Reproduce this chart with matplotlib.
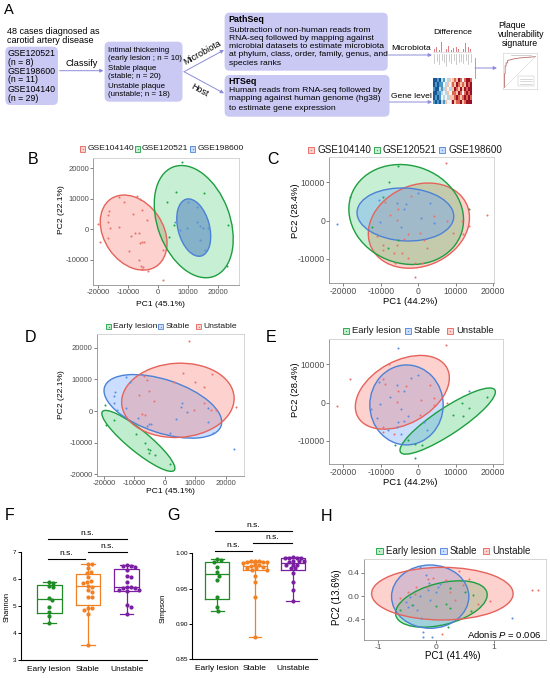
import numpy as np
import matplotlib
matplotlib.use("Agg")
import matplotlib.pyplot as plt
from matplotlib.patches import Ellipse, FancyBboxPatch, Rectangle
from matplotlib.ticker import FormatStrFormatter

plt.rcParams['font.family'] = ['Liberation Sans', 'DejaVu Sans']
plt.rcParams['axes.unicode_minus'] = False
plt.rcParams['mathtext.fontset'] = 'custom'
plt.rcParams['mathtext.rm'] = 'Liberation Sans'
plt.rcParams['mathtext.it'] = 'Liberation Sans:italic'

# ======================= DATA =======================
cohorts = ["GSE120521", "GSE198600", "GSE104140"]
cohort_n = [8, 11, 29]
groups = ["Early lesion", "Stable", "Unstable"]
group_n = [10, 20, 18]
cohort_levels = ["GSE104140", "GSE120521", "GSE198600"]

# Panels B / D : PCA of microbiota (PC1 45.1 %, PC2 22.1 %)
bd_pc1 = [-19800, -19300, -16600, -9500, -6400, -5600, -4900, -5300, -3400, 1600,
          -12820, -11380, -16350, -16580, -16690, -15800, -12820, -8950, -5300, -5860, -4530, 1660,
          -6960, -5860, -8400, -5300, -7510, -6410, -3650,
          7960, 5970, 15360, 2980, 3540, 23430, 22870, 5300,
          9950, 12930, 5750, 7400, 9610, 12930, 14030, 15140, 16800, 14030, 15690]
bd_pc2 = [1800, -4300, -2800, -7300, -10100, -12000, -12300, -13100, -13800, -16600,
          10710, 9070, 6010, 4700, 2510, 330, 870, -2190, -4040, -4590, -4040, -6780,
          10930, 9840, 5030, 6340, -1090, -1310, 3060,
          22190, 12130, 11800, 9070, -2400, 1420, -12020, 1420,
          9070, 7430, 2510, -220, 330, 2510, 1090, 330, 330, -3500, -6780]
bd_cohort = ["GSE104140"] * 29 + ["GSE120521"] * 8 + ["GSE198600"] * 11
bd_group_code = ("E E E E E E E E E E "
                 "S S S S S S S S S S S S "
                 "U U U U U U U "
                 "U U U U S U S S "
                 "U U S S U U S U U S S").split()

# Panels C / E : PCA of host genes (PC1 44.2 %, PC2 28.4 %)
ce_pc1 = [7290, -5330, -7820, 0, 3110, -9330, -10490, -8890, -5600, -3380, -5510, -3730,
          -18220, 13510, 620, 4270, -5600, -10220, -12450, 4180, 7730, 11560, 18220, -21780,
          -4710, -2670, 440, 9330, -3730, -5510, -9330, -5780, -8000, -9330, -4450, -6490,
          2220, -2670, -890, -6220, 890, -890, 12000, 13600, -11000, -7500, 1500, -2000]
ce_pc2 = [15140, 14360, 10000, 7310, 4700, 6090, 5390, 4960, 4520, 4350, 2960, 2960,
          6260, 3040, 780, 1220, 170, -260, -1740, -520, 0, -90, 1480, -960,
          -1740, -3480, -3130, -3310, -4870, -5050, -6350, -6350, -7220, -7660, -8350, -8350,
          -7220, -9830, -10960, -11140, -11140, -14620, -3500, -1500, -4000, 1500, -5000, 6500]
ce_cohort_code = ("A B B C C B C A C C A C "
                  "B B C A A C B C A A A C "
                  "C A A A A B A A B A A A "
                  "A A A A A A A A A A A A").split()
ce_group_code = ("U S U S U U S U S U U S "
                 "U S U U U S S U U E E U "
                 "S S U E S S U S S U S U "
                 "S E E E E E E E S S S S").split()

# Panel H : PCoA (PC1 41.4 %, PC2 13.6 %)
h_pc1 = [1.65, 1.76, 0.10, 0.40, 0.57, 0.94, 0.73, 0.17, -0.05, -0.13, -0.34, -0.48, 0.47, -0.62, 0.24, -0.16, 0.33, -0.36,
         -0.28, -0.17, -0.11, 0.07, 0.16, 0.04, -0.28, -0.45, -0.52, -0.39, -0.48, -0.10, 0.01, -0.25, -0.22, -0.07, -0.22, 1.32, -0.13, -0.33,
         0.24, 0.50, -0.42, 0.24, 0.21, 0.01, 0.18, -0.62, 0.64, 0.60]
h_pc2 = [0.10, 0.10, -0.65, 0.43, 0.29, -0.08, -0.13, 0.27, 0.31, 0.29, 0.16, 0.07, 0.19, -0.04, 0.07, 0.16, -0.07, 0.03,
         0.49, 0.36, 0.23, 0.21, 0.25, 0.15, 0.00, -0.02, -0.10, -0.15, -0.19, -0.07, 0.07, -0.37, -0.61, -0.70, -0.70, -0.38, 0.10, -0.24,
         0.13, 0.07, -0.15, -0.21, -0.53, -0.18, -0.13, -0.24, 0.02, -0.25]
h_group = ["Unstable"] * 18 + ["Stable"] * 20 + ["Early lesion"] * 10
adonis_p = "0.006"

# 95 % ellipses: (centre PC1, centre PC2, width, height, angle)
ell_B = {"GSE104140": (-8070, -1090, 26800, 19600, -55),
         "GSE120521": (11930, 2510, 38400, 24000, -69),
         "GSE198600": (11930, 550, 19300, 10500, -75)}
ell_C = {"GSE104140": (180, -1300, 27800, 21200, 22),
         "GSE120521": (-3200, 1610, 31000, 25600, -17),
         "GSE198600": (-3420, 1610, 25800, 13800, -3)}
ell_D = {"Early lesion": (-8710, -9420, 30000, 6840, -38),
         "Stable": (-660, 1470, 40200, 16800, -17.5),
         "Unstable": (4270, 3370, 37000, 23400, 3)}
ell_E = {"Early lesion": (7870, -4845, 30000, 7000, 33),
         "Stable": (-3110, -610, 19560, 20960, 0),
         "Unstable": (-4220, 2700, 27000, 16540, 28)}
ell_H = {"Early lesion": (0.095, -0.137, 1.62, 0.714, 14),
         "Stable": (-0.098, -0.011, 1.333, 1.086, 0),
         "Unstable": (0.112, 0.04, 2.442, 0.903, 0)}

# Panels F / G : alpha diversity
shannon = [[5.87, 5.85, 5.72, 5.70, 5.30, 5.20, 4.95, 4.78, 4.62, 4.35],
           [6.54, 6.54, 6.38, 6.26, 6.20, 6.05, 5.93, 5.89, 5.83, 5.74, 5.71, 5.58, 5.52, 5.34, 5.34, 4.91, 4.91, 4.85, 4.70, 3.54],
           [6.50, 6.48, 6.48, 6.43, 6.32, 6.10, 6.08, 5.89, 5.70, 5.68, 5.67, 5.66, 5.60, 5.57, 5.55, 5.03, 4.97, 4.70]]
simpson = [[0.9915, 0.991, 0.987, 0.980, 0.973, 0.968, 0.962, 0.938, 0.9245, 0.919],
           [0.9895, 0.9890, 0.9885, 0.9880, 0.9875, 0.9870, 0.9865, 0.9860, 0.9840, 0.9830, 0.9815, 0.9805, 0.9795, 0.9785, 0.9770, 0.9760, 0.9680, 0.9600, 0.9380, 0.8810],
           [0.9953, 0.9940, 0.9940, 0.9940, 0.9940, 0.9895, 0.9895, 0.9890, 0.9880, 0.9835, 0.9835, 0.9835, 0.9785, 0.9785, 0.9720, 0.9590, 0.9480, 0.9325]]
sig_label = "n.s."

# Thumbnails in panel A
thumb_bar_h = [0.3, 0.5, 0.2, 0.9, 0.4, 0.3, 0.6, 0.2, 0.35, 0.5, 0.25, 0.4, 0.3, 0.85, 0.45, 0.3]
thumb_lab_len = [0.8, 0.6, 0.9, 0.5, 0.7, 1.0, 0.6, 0.8, 0.5, 0.9, 0.7, 0.6, 0.8, 0.5, 0.9, 0.7]
thumb_heat = [[-3, -3, -2, -3, -1, -2, 0, -1, 1, 0, 1, 2, 1, 3, 2, 0, 2, 3, 3, 2],
              [-3, -2, -3, -2, -2, 0, -1, 1, 0, -1, 2, 1, 3, 2, 1, 2, 1, 3, 2, 3],
              [-2, -3, -3, -1, -2, -1, 1, 0, -1, 1, 1, 3, 2, 1, 3, 1, 3, 2, 3, 3],
              [-3, -3, -2, -2, -1, 0, -1, 1, 0, 0, 2, 2, 1, 3, 2, 0, 2, 3, 2, 3],
              [-3, -2, -3, -2, 0, -1, 0, -1, 1, 1, 1, 2, 3, 2, 1, 2, 3, 2, 3, 2],
              [-2, -3, -2, -3, -1, -2, 1, 0, 0, 1, 3, 1, 2, 2, 3, 1, 2, 3, 3, 3]]
roc_fpr = [0, 0, 0.02, 0.02, 0.05, 0.05, 0.1, 0.1, 0.2, 0.3, 0.5, 0.75, 1]
roc_tpr = [0, 0.45, 0.45, 0.7, 0.7, 0.8, 0.8, 0.88, 0.9, 0.93, 0.96, 0.98, 1]

# ======================= STYLE =======================
BASE = {"GSE104140": "#F8766D", "GSE120521": "#00BA38", "GSE198600": "#619CFF",
        "Unstable": "#F8766D", "Early lesion": "#00BA38", "Stable": "#619CFF"}
EDGE = {"GSE104140": "#E5635B", "GSE120521": "#1E9E40", "GSE198600": "#4C82D6",
        "Unstable": "#E5635B", "Early lesion": "#1E9E40", "Stable": "#4C82D6"}
ALPHA = {"GSE104140": 0.33, "GSE120521": 0.22, "GSE198600": 0.35,
         "Unstable": 0.33, "Early lesion": 0.25, "Stable": 0.33}
PT = {"GSE104140": "#E8736B", "GSE120521": "#1FA64A", "GSE198600": "#5A8FE0",
      "Unstable": "#E8736B", "Early lesion": "#1FA64A", "Stable": "#5A8FE0"}
GCOL = ["#1F8B24", "#F28024", "#7B1FA2"]
code_map = {"E": "Early lesion", "S": "Stable", "U": "Unstable",
            "A": "GSE104140", "B": "GSE120521", "C": "GSE198600"}

W, H = 550, 678
fig = plt.figure(figsize=(W / 100, H / 100), dpi=100)
ov = fig.add_axes([0, 0, 1, 1])
ov.set_xlim(0, W)
ov.set_ylim(H, 0)
ov.axis('off')
ov.set_zorder(10)


def pax(l, t, r, b):
    return fig.add_axes([l / W, 1 - b / H, (r - l) / W, (b - t) / H])


# ======================= PANEL A =======================
BOXC = '#c9c9f4'
ARC = '#8c8cdc'


def rbox(x0, y0, x1, y1):
    ov.add_patch(FancyBboxPatch((x0, y0), x1 - x0, y1 - y0,
                                boxstyle='round,pad=0,rounding_size=5',
                                facecolor=BOXC, edgecolor='none'))


def arrow(x0, y0, x1, y1):
    ov.annotate('', xy=(x1, y1), xytext=(x0, y0),
                arrowprops=dict(arrowstyle='-|>', color=ARC, lw=0.7,
                                mutation_scale=5, shrinkA=0, shrinkB=0))


ov.text(8.8, 10, 'A', fontsize=10.5, ha='center', va='center')
ov.text(7, 31.7, '48 cases diagnosed as', fontsize=6.5, va='center')
ov.text(7, 40.7, 'carotid artery disease', fontsize=6.5, va='center')
rbox(5.3, 46.7, 57.9, 105)
ys = [53.3, 62.3, 71.7, 80, 89, 98.5]
for k, (c, n) in enumerate(zip(cohorts, cohort_n)):
    ov.text(7.7, ys[2 * k], c, fontsize=6.3, va='center')
    ov.text(7.7, ys[2 * k + 1], f'(n = {n})', fontsize=6.3, va='center')
ov.text(81.5, 64, 'Classify', fontsize=6.6, ha='center', va='center')
arrow(59.6, 70.7, 103.5, 70.7)

rbox(104.6, 41.7, 182.5, 101.7)
box2 = ['Intimal thickening', f'(early lesion ; n = {group_n[0]})',
        'Stable plaque', f'(stable; n = {group_n[1]})',
        'Unstable plaque', f'(unstable; n = {group_n[2]})']
for t, y in zip(box2, [50, 58.3, 68.3, 76.7, 86.7, 95]):
    ov.text(108, y, t, fontsize=5.7, va='center')

arrow(184, 71.7, 224, 50)
arrow(184, 71.7, 224, 93.3)
ov.text(202.5, 52.5, 'Microbiota', rotation=29, fontsize=6.5, ha='center', va='center')
ov.text(199.5, 90.5, 'Host', rotation=-29, fontsize=6.5, ha='center', va='center')

rbox(224.6, 12.7, 387.7, 70.7)
ov.text(228.8, 19.3, 'PathSeq', fontsize=6.4, fontweight='bold', va='center')
for t, y in zip(['Subtraction of non-human reads from',
                 'RNA-seq followed by mapping against',
                 'microbial datasets to estimate microbiota',
                 'at phylum, class, order, family, genus, and',
                 'species ranks'], [30, 38.3, 46.7, 55, 63.3]):
    ov.text(228.8, y, t, fontsize=6.1, va='center')
rbox(224.6, 75, 389.5, 116.7)
ov.text(228.8, 81, 'HTSeq', fontsize=6.4, fontweight='bold', va='center')
for t, y in zip(['Human reads from RNA-seq followed by',
                 'mapping against human genome (hg38)',
                 'to estimate gene expression'], [90, 99, 108.3]):
    ov.text(228.8, y, t, fontsize=6.1, va='center')

ov.text(411.5, 48.3, 'Microbiota', fontsize=6.1, ha='center', va='center')
arrow(388.6, 55, 432, 55)
ov.text(411.5, 96.5, 'Gene level', fontsize=6.1, ha='center', va='center')
arrow(389.5, 102, 432, 102)
ov.text(452.5, 32.3, 'Difference', fontsize=6.1, ha='center', va='center')
ov.plot([475, 475], [58, 78], color=ARC, lw=0.6)
arrow(475, 68, 497, 68)
ov.text(498, 25, 'Plaque', fontsize=6.3, va='center')
ov.text(498, 34.3, 'vulnerability', fontsize=6.3, va='center')
ov.text(501.5, 43.3, 'signature', fontsize=6.3, va='center')

# thumbnail: differential bar chart
tb = pax(433, 40, 472, 67)
tb.set_xlim(-0.5, len(thumb_bar_h) - 0.5)
tb.set_ylim(0, 1)
xs_t = np.arange(len(thumb_bar_h))
tb.bar(xs_t, [h * 0.4 for h in thumb_bar_h], bottom=0.55, width=0.35, color='#d98088')
for x, L in zip(xs_t, thumb_lab_len):
    tb.plot([x, x], [0.5, 0.5 - 0.45 * L], color='#b5b5b5', lw=0.5)
tb.axhline(0.55, color='#cccccc', lw=0.4)
tb.axis('off')

# thumbnail: heatmap
th = pax(433, 78, 472, 104)
th.imshow(np.array(thumb_heat), cmap='RdBu_r', vmin=-3.5, vmax=3.5, aspect='auto',
          interpolation='nearest')
th.axis('off')

# thumbnail: ROC
tr = pax(503, 53, 537, 89)
tr.plot(roc_fpr, roc_tpr, color='#b76b6b', lw=0.6)
tr.plot([0, 1], [0, 1], color='#cccccc', lw=0.3)
tr.add_patch(Rectangle((0.45, 0.06), 0.5, 0.3, facecolor='white', edgecolor='#bbbbbb', lw=0.3))
for yy in [0.28, 0.2, 0.12]:
    tr.plot([0.5, 0.9], [yy, yy], color='#bbbbbb', lw=0.4)
tr.set_xlim(-0.05, 1.05)
tr.set_ylim(-0.05, 1.12)
tr.plot([0.2, 0.85], [1.07, 1.07], color='#bbbbbb', lw=0.5)
tr.set_xticks([])
tr.set_yticks([])
for s in tr.spines.values():
    s.set_color('#cccccc')
    s.set_linewidth(0.4)


# ======================= PCA PANELS =======================
def pca_panel(box, x, y, labels, levels, ell, xlim, ylim, xticks, yticks, fs,
              fill_over=None):
    ax = pax(*box)
    x = np.asarray(x, float)
    y = np.asarray(y, float)
    labels = np.asarray(labels)
    for lv in levels:
        cx, cy, w, h, ang = ell[lv]
        fc, al = BASE[lv], ALPHA[lv]
        if fill_over and lv in fill_over:
            fc, al = fill_over[lv]
        ax.add_patch(Ellipse((cx, cy), w, h, angle=ang, facecolor=fc, alpha=al,
                             edgecolor='none', zorder=1))
        ax.add_patch(Ellipse((cx, cy), w, h, angle=ang, facecolor='none',
                             edgecolor=EDGE[lv], lw=1.0, zorder=2))
    for lv in levels:
        m = labels == lv
        ax.scatter(x[m], y[m], s=2.2, color=PT[lv], linewidths=0, zorder=3)
    ax.set_xlim(*xlim)
    ax.set_ylim(*ylim)
    ax.set_xticks(xticks)
    ax.set_yticks(yticks)
    ax.tick_params(length=2, width=0.5, pad=1, labelsize=fs, colors='#4d4d4d')
    for k, s in ax.spines.items():
        s.set_linewidth(0.6)
        s.set_color('#8f8f8f' if k in ('left', 'bottom') else '#cfcfcf')
    return ax


def legend_row(yc, items, size, fs):
    for ix, tx, lv in items:
        ov.add_patch(Rectangle((ix, yc - size / 2), size, size, facecolor=BASE[lv],
                               alpha=ALPHA[lv], edgecolor='none'))
        ov.add_patch(Rectangle((ix, yc - size / 2), size, size, facecolor='none',
                               edgecolor=EDGE[lv], lw=0.6))
        ov.scatter([ix + size / 2], [yc], s=0.8, color=PT[lv], linewidths=0)
        ov.text(tx, yc, lv, fontsize=fs, ha='left', va='center', color='#1a1a1a')


ticks20 = [-20000, -10000, 0, 10000, 20000]
bd_group = [code_map[c] for c in bd_group_code]
ce_group = [code_map[c] for c in ce_group_code]
ce_cohort = [code_map[c] for c in ce_cohort_code]

# B
pca_panel((93, 158, 239, 285), bd_pc1, bd_pc2, bd_cohort, cohort_levels, ell_B,
          (-21600, 27000), (-18300, 23400), ticks20, [-10000, 0, 10000, 20000], 5.5,
          fill_over={"GSE198600": ("#4F80C0", 0.55)})
legend_row(149, [(80, 87.3, "GSE104140"), (135, 141.7, "GSE120521"), (190, 197.3, "GSE198600")], 5.3, 6.1)
ov.text(160, 304, 'PC1 (45.1%)', fontsize=6.1, ha='center', va='center')
ov.text(61.7, 210, 'PC2 (22.1%)', fontsize=6.1, ha='center', va='center', rotation=90)
ov.text(33.5, 159, 'B', fontsize=11.5, ha='center', va='center')

# C
pca_panel((329.3, 156.7, 494, 282.7), ce_pc1, ce_pc2, ce_cohort, cohort_levels, ell_C,
          (-23700, 20200), (-16200, 16700), ticks20, [-10000, 0, 10000], 6.2)
legend_row(150, [(308.3, 317.3, "GSE104140"), (373.7, 382.3, "GSE120521"), (439.3, 448.3, "GSE198600")], 6.0, 7.1)
ov.text(410.3, 301, 'PC1 (44.2%)', fontsize=6.8, ha='center', va='center')
ov.text(295, 211, 'PC2 (28.4%)', fontsize=6.8, ha='center', va='center', rotation=90)
ov.text(273, 159, 'C', fontsize=11.5, ha='center', va='center')

# D
pca_panel((96.7, 334, 244, 476), bd_pc1, bd_pc2, bd_group, groups, ell_D,
          (-22400, 26000), (-20500, 24300), ticks20, ticks20, 5.5)
legend_row(326.7, [(106, 113.3, "Early lesion"), (158.3, 166, "Stable"), (196, 203.3, "Unstable")], 5.0, 6.1)
ov.text(171, 491.7, 'PC1 (45.1%)', fontsize=6.1, ha='center', va='center')
ov.text(61.7, 395, 'PC2 (22.1%)', fontsize=6.1, ha='center', va='center', rotation=90)
ov.text(30, 337, 'D', fontsize=11.5, ha='center', va='center')

# E
pca_panel((329.3, 339.3, 503.3, 464), ce_pc1, ce_pc2, ce_group, groups, ell_E,
          (-23700, 22700), (-16100, 16600), ticks20, [-10000, 0, 10000], 6.2)
legend_row(330.7, [(343.3, 352.3, "Early lesion"), (405, 413.3, "Stable"), (447.3, 456, "Unstable")], 6.0, 6.8)
ov.text(410.3, 482.3, 'PC1 (44.2%)', fontsize=6.8, ha='center', va='center')
ov.text(295, 390, 'PC2 (28.4%)', fontsize=6.8, ha='center', va='center', rotation=90)
ov.text(271, 337, 'E', fontsize=11.5, ha='center', va='center')

# H
axH = pca_panel((364, 559.3, 545.7, 640), h_pc1, h_pc2, h_group, groups, ell_H,
                (-1.24, 1.895), (-0.755, 0.63), [-1, 0, 1], [-0.4, 0.0, 0.4], 6.0)
axH.yaxis.set_major_formatter(FormatStrFormatter('%.1f'))
legend_row(551, [(376, 386, "Early lesion"), (440, 449.3, "Stable"), (482.7, 492, "Unstable")], 6.7, 7.0)
ov.text(452.5, 655.7, 'PC1 (41.4%)', fontsize=7.0, ha='center', va='center')
ov.text(336.7, 597.3, 'PC2 (13.6%)', fontsize=7.0, ha='center', va='center', rotation=90)
ov.text(541.7, 634, f'Adonis $P$ = {adonis_p}', fontsize=6.8, ha='right', va='center')
ov.text(326.7, 516.7, 'H', fontsize=11.5, ha='center', va='center')


# ======================= BOX PANELS =======================
def swarm(vals, ypx, xpx, d=4.0, step=1.0, cap=13):
    v = np.asarray(vals, float)
    yp = v * ypx
    order = np.argsort(-v, kind='stable')
    placed = []
    off = np.zeros(len(v))
    for i in order:
        chosen = None
        k = 0
        while k * step <= cap:
            cands = [0.0] if k == 0 else [k * step, -k * step]
            for c in cands:
                if all((c - px) ** 2 + (yp[i] - py) ** 2 >= d * d for px, py in placed):
                    chosen = c
                    break
            if chosen is not None:
                break
            k += 1
        if chosen is None:
            chosen = 0.0
        placed.append((chosen, yp[i]))
        off[i] = chosen / xpx
    return off


def box_panel(box, data, xlim, ylim, yticks, ytl, sigs, sig_dy):
    ax = pax(*box)
    l, t, r, b = box
    xpx = (r - l) / (xlim[1] - xlim[0])
    ypx = (b - t) / (ylim[1] - ylim[0])
    for i, (vals, col) in enumerate(zip(data, GCOL)):
        v = np.asarray(vals, float)
        q1, med, q3 = np.percentile(v, [25, 50, 75], method='weibull')
        st = [dict(med=med, q1=q1, q3=q3, whislo=v.min(), whishi=v.max(), fliers=[])]
        lp = dict(color=col, lw=0.9)
        ax.bxp(st, positions=[i], widths=0.64, capwidths=0.34, showfliers=False,
               boxprops=lp, medianprops=lp, whiskerprops=lp, capprops=lp,
               manage_ticks=False)
        offs = swarm(v, ypx, xpx)
        ax.scatter(i + offs, v, s=9, color=col, linewidths=0, zorder=3)
    ax.set_xlim(*xlim)
    ax.set_ylim(*ylim)
    ax.set_xticks([0, 1, 2])
    ax.set_xticklabels(groups)
    ax.set_yticks(yticks)
    ax.set_yticklabels(ytl)
    ax.tick_params(axis='x', length=0, pad=4, labelsize=6)
    ax.tick_params(axis='y', length=2, width=0.7, pad=1, labelsize=4.6)
    ax.spines['top'].set_visible(False)
    ax.spines['right'].set_visible(False)
    for k in ('left', 'bottom'):
        ax.spines[k].set_linewidth(0.8)
    ax.patch.set_alpha(0)
    for x1, x2, yl in sigs:
        ax.plot([x1, x2], [yl, yl], color='black', lw=0.8, clip_on=False)
        ax.text((x1 + x2) / 2, yl + sig_dy, sig_label, ha='center', va='baseline',
                fontsize=6, clip_on=False)
    return ax


box_panel((20.7, 551.7, 146.7, 660), shannon, (-0.739, 2.517), (3, 7),
          [3, 4, 5, 6, 7], ['3', '4', '5', '6', '7'],
          [(-0.03, 2.0, 7.458), (-0.03, 0.92, 6.719), (1.01, 2.0, 7.0)], 0.15)
ov.text(7.3, 606.7, 'Shannon', fontsize=5.4, rotation=90, ha='center', va='center')
ov.text(9.5, 516, 'F', fontsize=11.5, ha='center', va='center')

box_panel((192.3, 553.3, 316.7, 659.3), simpson, (-0.663, 2.637), (0.85, 1.0),
          [0.85, 0.90, 0.95, 1.00], ['0.85', '0.90', '0.95', '1.00'],
          [(-0.06, 1.97, 1.0316), (-0.06, 0.91, 1.0033), (0.94, 1.97, 1.0151)], 0.0056)
ov.text(163.3, 608, 'Simpson', fontsize=5.4, rotation=90, ha='center', va='center')
ov.text(173.5, 516, 'G', fontsize=11.5, ha='center', va='center')

fig.savefig('out.png', dpi=100)
